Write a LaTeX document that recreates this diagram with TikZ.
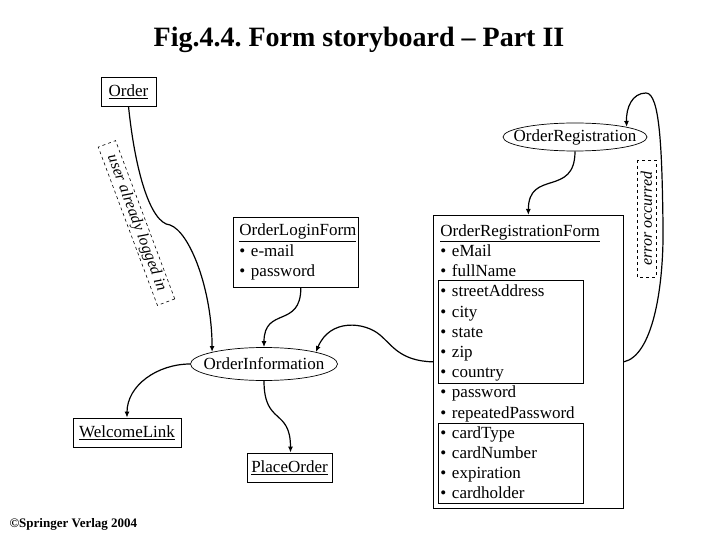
\documentclass[tikz,border=0pt]{standalone}
\usepackage{fontspec}
\setmainfont{Liberation Serif}
\usetikzlibrary{shapes.geometric,arrows.meta}
\frenchspacing

\newcommand{\snug}[1]{\makebox[0pt]{#1}}

\begin{document}
\begin{tikzpicture}[x=1pt,y=-1pt,
        pagebox/.style={draw,line width=0.7pt,inner sep=0pt,font=\fontsize{17}{20}\selectfont},
        linkbox/.style={pagebox,minimum height=29pt},
        formbox/.style={pagebox,anchor=north west,align=left,inner xsep=6pt},
        groupbox/.style={draw,line width=0.7pt,anchor=north west,inner sep=0pt,minimum width=145pt},
        statebox/.style={pagebox,ellipse},
        guardbox/.style={draw,dashed,line width=0.6pt,inner sep=0pt,minimum height=18.5pt,font=\fontsize{16}{16}\selectfont\itshape},
        flowline/.style={line width=1.2pt,-{Latex[length=6pt,width=5pt]}}]
        \useasboundingbox (0,0) rectangle (720,540);

        % Title
        \node[anchor=base,font=\fontsize{28}{30}\selectfont\bfseries] (title) at (359,47) {Fig.4.4. Form storyboard – Part II};

        % Pages and links
        \node[linkbox,minimum width=55pt] (order) at (128.5,91.5) {\underline{Order}};
        \node[statebox,minimum width=144pt,minimum height=28pt] (orderreg) at (575,137) {\snug{OrderRegistration}};
        \node[formbox,text width=113pt,minimum height=70pt,font=\fontsize{17}{20.5}\selectfont] (loginform) at (233,217) {
            \underline{OrderLoginForm}\\
            • e-mail\\
            • password};
        \node[formbox,text width=176pt,inner xsep=7pt,minimum height=293pt,font=\fontsize{17}{20.2}\selectfont] (regform) at (433,215) {
            \underline{OrderRegistrationForm}\\
            • eMail\\
            • fullName\\
            • streetAddress\\
            • city\\
            • state\\
            • zip\\
            • country\\
            • password\\
            • repeatedPassword\\
            • cardType\\
            • cardNumber\\
            • expiration\\
            • cardholder};
        \node[groupbox,minimum height=103pt] (addressgroup) at ([shift={(5,65)}]regform.north west) {};
        \node[groupbox,minimum height=80pt] (cardgroup) at ([shift={(5,208)}]regform.north west) {};
        \node[statebox,minimum width=147pt,minimum height=33pt] (orderinfo) at (264,364) {\snug{OrderInformation}};
        \node[linkbox,minimum width=108pt] (welcome) at (127,432.5) {\underline{WelcomeLink}};
        \node[linkbox,minimum width=85pt] (placeorder) at (289.5,467.5) {\underline{PlaceOrder}};

        % Transitions
        \draw[flowline] (order.south) .. controls (135,170) and (150,223) .. (170,225)
            .. controls (190,232) and (212,290) .. (orderinfo.167);
        \draw[flowline] ([xshift=5pt]loginform.south) to[out=-90,in=90,looseness=1.5] (orderinfo.north);
        \draw[flowline] (regform.west) .. controls (400,361) and (392,345) .. (380,335)
            .. controls (365,322) and (330,318) .. (orderinfo.13);
        \draw[flowline] (orderinfo.west) to[out=180,in=90] (welcome.north);
        \draw[flowline] (orderinfo.south) to[out=-90,in=90,looseness=1.5] ([xshift=1pt]placeorder.north);
        \draw[flowline] (orderreg.south) to[out=-90,in=90,looseness=1.5] (regform.north);
        \draw[flowline] (regform.east) .. controls (652,356) and (664,290) .. (663,225)
            .. controls (662,150) and (660,93) .. (646,93)
            .. controls (632,93) and (626,108) .. (orderreg.11);

        % Conditions
        \node[guardbox,minimum width=169pt,rotate=-69.5] (loggedin) at (136.5,223) {user already logged in};
        \node[guardbox,minimum width=117pt,minimum height=19pt,rotate=90] (erroroccurred) at (646.5,218.5) {error occurred};

        % Copyright
        \node[anchor=base west,font=\fontsize{13}{13}\selectfont\bfseries] (copyright) at (6,527) {\textcopyright Springer Verlag 2004};
    \end{tikzpicture}
\end{document}
